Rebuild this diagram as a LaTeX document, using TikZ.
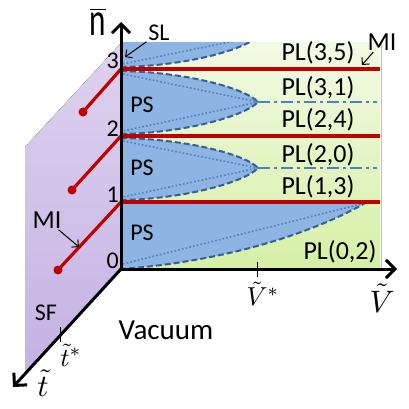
\documentclass[tikz,border=0pt]{standalone}
\usepackage{fontspec}
\setmainfont{Carlito}
\usepackage{amsmath}
\usepackage{graphicx}
\usetikzlibrary{arrows.meta}
\definecolor{psblue}{RGB}{141,180,226}
\definecolor{edgeblue}{RGB}{54,96,146}
\definecolor{dotblue}{RGB}{79,129,189}
\definecolor{mired}{RGB}{192,0,0}
\definecolor{plgreentop}{RGB}{242,250,228}
\definecolor{plgreenbot}{RGB}{214,240,166}
\definecolor{sftop}{RGB}{222,210,238}
\definecolor{sfbot}{RGB}{196,178,228}

\begin{document}
\begin{tikzpicture}[x=1pt,y=-1pt,
  every node/.style={inner sep=0pt,font=\fontsize{24}{26}\selectfont},
  axis/.style={black,line width=3pt,-{Straight Barb[length=9pt,width=18pt]}},
  psedge/.style={edgeblue,line width=2pt,dash pattern=on 6pt off 3pt},
  psdots/.style={dotblue,line width=1.6pt,dash pattern=on 1.6pt off 2.2pt},
  pldash/.style={dotblue,line width=2pt,dash pattern=on 12pt off 4pt on 3pt off 4pt},
  miline/.style={mired,line width=3.2pt},
  midot/.style={mired},
  pllbl/.style={font=\fontsize{26}{28}\selectfont},
  callout/.style={black,line width=1pt,shorten <=2pt,-{Straight Barb[length=5pt,width=10pt]}},
  mathlbl/.style={font=\normalsize}]
\useasboundingbox (0,0) rectangle (409,409);
\coordinate (O) at (121,269);
\coordinate (T) at (121,43);
\coordinate (ntip) at (121,22);
\coordinate (Vtip) at (397,269);
\coordinate (ttip) at (13,387);
% SF plane
\fill[top color=sftop,bottom color=sfbot] (T) -- (25,147) -- (25,373) -- (O) -- cycle;
% PL block
\fill[top color=plgreentop,bottom color=plgreenbot] (T) rectangle (380,269);
\draw[black!25,line width=1pt] (381,43) -- (381,269);
\begin{scope}
\clip (T) rectangle (380,269);
\fill[psblue] (121,5) .. controls (185,6) and (245,22) .. (258,36) .. controls (245,50) and (185,66) .. (121,67) -- cycle;
\draw[psedge] (121,5) .. controls (185,6) and (245,22) .. (258,36) .. controls (245,50) and (185,66) .. (121,67);
\draw[psdots] (123,64) -- (258,36);
\fill[psblue] (121,71) .. controls (185,72) and (245,88) .. (258,102) .. controls (245,116) and (185,133) .. (121,134) -- cycle;
\draw[psedge] (121,71) .. controls (185,72) and (245,88) .. (258,102) .. controls (245,116) and (185,133) .. (121,134);
\draw[psdots] (123,74) -- (258,102) -- (123,131);
\fill[psblue] (121,138) .. controls (185,139) and (245,154) .. (258,168) .. controls (245,182) and (185,199) .. (121,200) -- cycle;
\draw[psedge] (121,138) .. controls (185,139) and (245,154) .. (258,168) .. controls (245,182) and (185,199) .. (121,200);
\draw[psdots] (123,141) -- (258,168) -- (123,197);
\fill[psblue] (121,202) -- (367,202) .. controls (310,235) and (220,262) .. (121,269) -- cycle;
\draw[psedge] (367,202) .. controls (310,235) and (220,262) .. (121,269);
\draw[psdots] (123,264) -- (365,203);
\end{scope}
\draw[pldash] (258,102) -- (377,102);
\draw[pldash] (258,168) -- (377,168);
% MI lines
\coordinate (n1) at (121,202);
\coordinate (n2) at (121,136);
\coordinate (n3) at (121,69);
\coordinate (d1) at (58,270);
\coordinate (d2) at (72,190);
\coordinate (d3) at (83,112);
\draw[miline] (n1) -- (380,202);
\draw[miline] (n2) -- (380,136);
\draw[miline] (n3) -- (380,69);
\draw[miline] (n1) -- (d1);
\draw[miline] (n2) -- (d2);
\draw[miline] (n3) -- (d3);
\fill[midot] (d1) circle (4.5);
\fill[midot] (d2) circle (4.5);
\fill[midot] (d3) circle (4.5);
% axes
\draw[axis] (O) -- (ntip);
\draw[axis] (O) -- (Vtip);
\draw[axis] (O) -- (ttip);
\draw[line width=1pt] (257,262) -- (257,277);
\draw[line width=1pt] (60,327) -- (60,342);
% labels
\node (nbar) at (98,22) {$\overline{\mbox{\scalebox{1.3}[1.95]{n}}}$};
\node[anchor=base east] (l3) at (119,69) {3};
\node[anchor=base east] (l2) at (119,136) {2};
\node[anchor=base east] (l1) at (119,202) {1};
\node[anchor=base east] (l0) at (119,268) {0};
\node (ps3) at (142,105) {PS};
\node (ps2) at (142,168) {PS};
\node (ps1) at (142,233) {PS};
\node[pllbl] (pl35) at (318,53) {PL(3,5)};
\node[pllbl] (pl31) at (318,88) {PL(3,1)};
\node[pllbl] (pl24) at (318,120) {PL(2,4)};
\node[pllbl] (pl20) at (318,155) {PL(2,0)};
\node[pllbl] (pl13) at (318,187) {PL(1,3)};
\node[pllbl] (pl02) at (340,252) {PL(0,2)};
\node (sl) at (159,33) {SL};
\node[pllbl] (mitop) at (382,42) {MI};
\node[pllbl] (mileft) at (47,220) {MI};
\node (sf) at (46,313) {SF};
\node[font=\fontsize{29}{31}\selectfont] (vac) at (166,330) {Vacuum};
\node[mathlbl] (vstar) at (263,294) {\scalebox{2.6}{$\tilde{V}^*$}};
\node[mathlbl] (vlbl) at (382,298) {\scalebox{3.1}{$\tilde{V}$}};
\node[mathlbl] (tstar) at (71,355) {\scalebox{2.6}{$\tilde{t}^*$}};
\node[mathlbl] (tlbl) at (43,383) {\scalebox{3.1}{$\tilde{t}$}};
\coordinate (sltip) at (125,57);
\coordinate (mitoptip) at (362,65);
\coordinate (milefttip) at (79,247);
\draw[callout] (sl) -- (sltip);
\draw[callout] (mitop) -- (mitoptip);
\draw[callout] (mileft) -- (milefttip);
\end{tikzpicture}
\end{document}
